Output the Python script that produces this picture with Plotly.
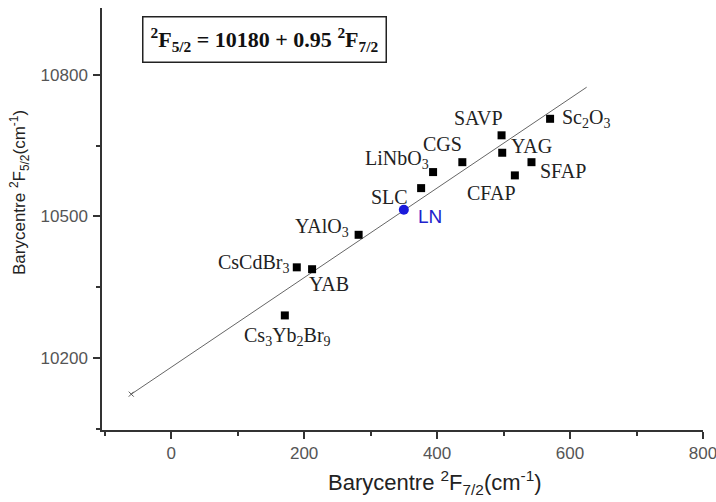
import plotly.graph_objects as go

# Data
names = ["Cs<sub>3</sub>Yb<sub>2</sub>Br<sub>9</sub>", "CsCdBr<sub>3</sub>", "YAB", "YAlO<sub>3</sub>",
         "SLC", "LiNbO<sub>3</sub>", "CGS", "SAVP", "YAG", "CFAP", "SFAP", "Sc<sub>2</sub>O<sub>3</sub>"]
f72 = [171, 189, 212, 282, 376, 394, 438, 497, 498, 517, 542, 570]
f52 = [10290, 10392, 10388, 10461, 10560, 10594, 10615, 10672, 10635, 10587, 10615, 10707]

ln_x = [350]
ln_y = [10514]

fit_x = [-60, 625]
fit_y = [10123, 10774]

x_ticks = [0, 200, 400, 600, 800]
y_ticks = [10200, 10500, 10800]
y_tick_text = ["10200", "10500", "10800"]

# label offsets (pixels): xanchor, xshift, yshift
label_pos = [
    ("center", 3, -21), ("right", -6, 4), ("left", -5, -15), ("right", -8, 7),
    ("right", -11, -9), ("right", -2, 13), ("center", -20, 18), ("center", -23, 17),
    ("left", 7, 7), ("center", -23, -18), ("left", 7, -9), ("left", 10, 0),
]

serif = "Liberation Serif, Times New Roman, serif"
sans = "Liberation Sans, Arial, sans-serif"

fig = go.Figure()
fig.add_trace(go.Scatter(x=fit_x, y=fit_y, mode="lines", line=dict(color="#666666", width=1),
                         hoverinfo="skip", showlegend=False))
fig.add_trace(go.Scatter(x=fit_x[:1], y=fit_y[:1], mode="markers",
                         marker=dict(symbol="x-thin", size=5, line=dict(color="#555555", width=1)),
                         showlegend=False))
fig.add_trace(go.Scatter(x=f72, y=f52, mode="markers",
                         marker=dict(symbol="square", size=8, color="black"), showlegend=False))
fig.add_trace(go.Scatter(x=ln_x, y=ln_y, mode="markers",
                         marker=dict(symbol="circle", size=10, color="#1a1adb"), showlegend=False))

for n, xv, yv, (anc, xs, ys) in zip(names, f72, f52, label_pos):
    fig.add_annotation(x=xv, y=yv, text=n, showarrow=False, xanchor=anc, yanchor="middle",
                       xshift=xs, yshift=ys, font=dict(family=serif, size=20, color="#222222"))

fig.add_annotation(x=ln_x[0], y=ln_y[0], text="LN", showarrow=False, xanchor="left", yanchor="middle",
                   xshift=12, yshift=-7, font=dict(family=sans, size=19, color="#2222cc"))

fig.add_annotation(xref="paper", yref="paper", x=0.271, y=0.9265, xanchor="center", yanchor="middle",
                   text="<b><sup>2</sup>F<sub>5/2</sub> = 10180 + 0.95 <sup>2</sup>F<sub>7/2</sub></b>",
                   showarrow=False, font=dict(family=serif, size=22, color="#111111"),
                   bordercolor="#222222", borderwidth=1.5, width=240, height=42, bgcolor="white")

fig.add_annotation(xref="paper", yref="paper", x=(435 - 102) / 601, y=-(482 - 430) / 422,
                   xanchor="center", yanchor="middle", showarrow=False,
                   text="Barycentre <sup>2</sup>F<sub>7/2</sub>(cm<sup>-1</sup>)",
                   font=dict(family=sans, size=22, color="#222222"))

fig.add_annotation(xref="paper", yref="paper", x=-(102 - 20) / 601, y=1 - (193 - 8) / 422,
                   xanchor="center", yanchor="middle", showarrow=False, textangle=-90,
                   text="Barycentre <sup>2</sup>F<sub>5/2</sub>(cm<sup>-1</sup>)",
                   font=dict(family=sans, size=17, color="#222222"))

fig.update_layout(
    width=716, height=502, margin=dict(l=102, r=13, t=8, b=72, autoexpand=False),
    plot_bgcolor="white", paper_bgcolor="white",
    xaxis=dict(range=[-104, 800], tickvals=x_ticks, ticks="outside", ticklen=7, tickwidth=1.5,
               tickcolor="#333333", showline=True, linecolor="#333333", linewidth=1.5, automargin=False,
               ticklabeloverflow="allow",
               showgrid=False, zeroline=False, tickfont=dict(family=sans, size=17, color="#555555"),
               minor=dict(dtick=100, tick0=0, ticks="outside", ticklen=4, tickcolor="#333333", showgrid=False)),
    yaxis=dict(range=[10047, 10942], tickvals=y_ticks, ticktext=y_tick_text, ticks="outside", ticklen=7,
               tickwidth=1.5, automargin=False, ticklabelstandoff=2, ticklabeloverflow="allow",
               tickcolor="#333333", showline=True, linecolor="#333333", linewidth=1.5,
               showgrid=False, zeroline=False, tickfont=dict(family=sans, size=17, color="#555555"),
               minor=dict(dtick=150, tick0=10200, ticks="outside", ticklen=4, tickcolor="#333333", showgrid=False)),
)

fig.write_html("out.html")
